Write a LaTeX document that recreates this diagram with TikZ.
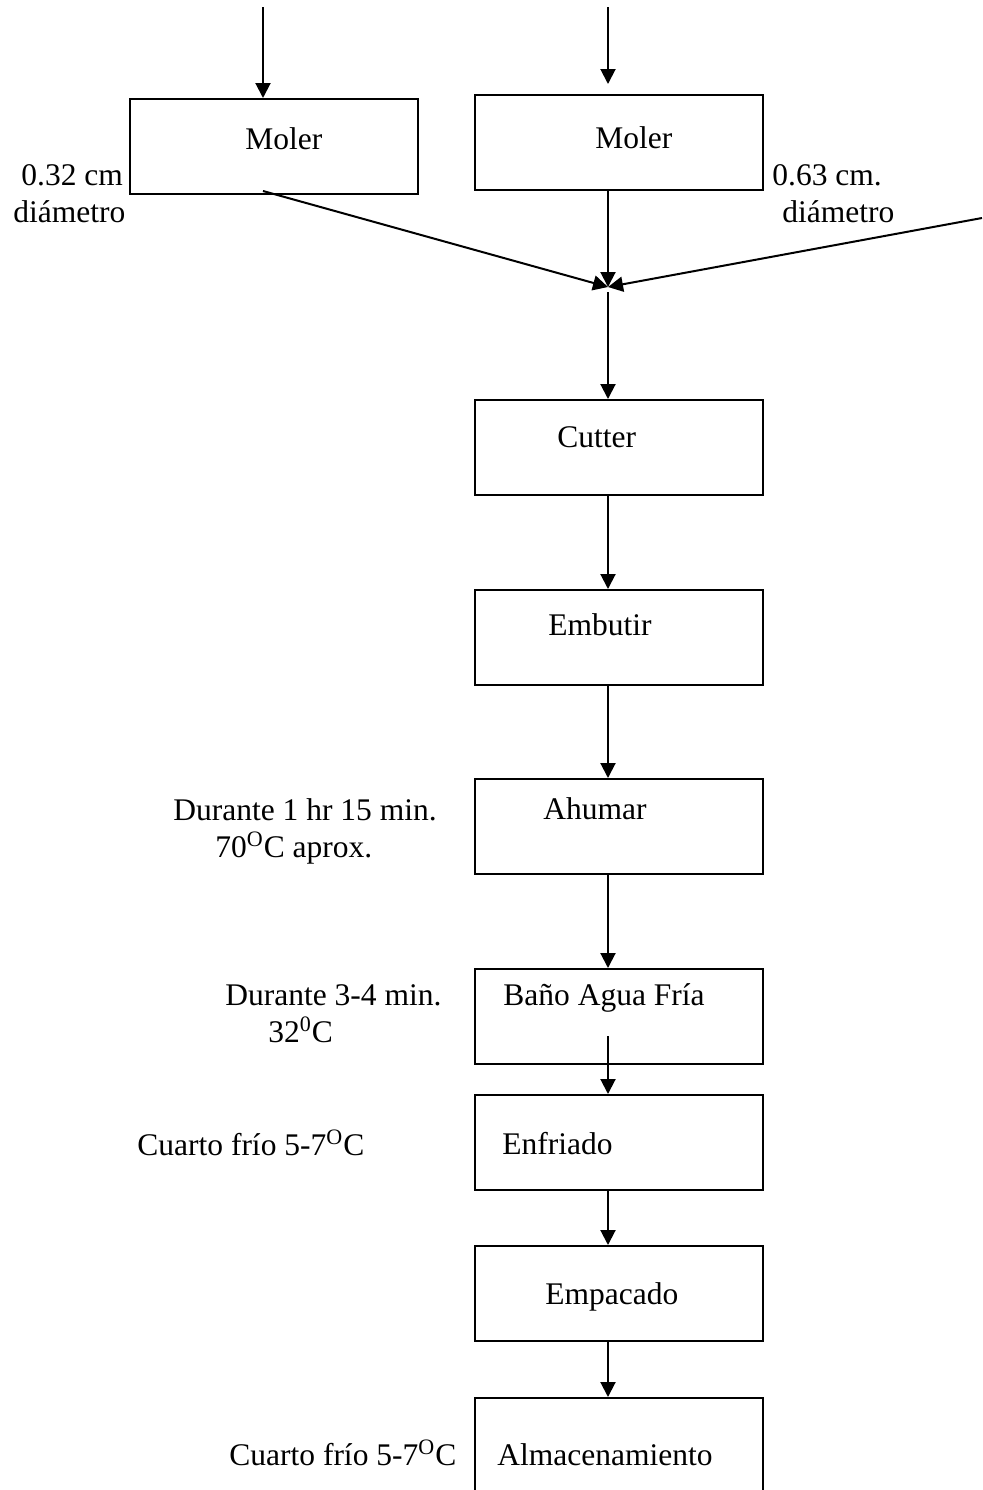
\documentclass[tikz,border=0pt]{standalone}
\usepackage{fontspec}
\setmainfont{Liberation Serif}
\usetikzlibrary{arrows.meta}
\begin{document}
\begin{tikzpicture}[x=0.5pt,y=-0.5pt,
  font=\fontsize{15.75}{18}\selectfont,
  stepbox/.style={draw, line width=1pt, rectangle, minimum width=144pt,
    minimum height=47.5pt, inner sep=0pt, anchor=north west},
  txt/.style={inner sep=0pt, anchor=base west},
  arr/.style={line width=1pt, -{Triangle[length=7.5pt,width=7.5pt]}}]
\useasboundingbox (0,0) rectangle (982,1490);
\clip (0,0) rectangle (982,1490);

% process boxes
\node[stepbox] (mL)  at (129,98)   {};
\node[stepbox] (mR)  at (474,94)   {};
\node[stepbox] (cut) at (474,399)  {};
\node[stepbox] (emb) at (474,589)  {};
\node[stepbox] (ahu) at (474,778)  {};
\node[stepbox] (ban) at (474,968)  {};
\node[stepbox] (enf) at (474,1094) {};
\node[stepbox] (emp) at (474,1245) {};
\node[stepbox, minimum height=70pt] (alm) at (474,1397) {};

% box captions
\node[txt] (tmL)  at (245,149)  {Moler};
\node[txt] (tmR)  at (595,148)  {Moler};
\node[txt] (tcut) at (557,447)  {Cutter};
\node[txt] (temb) at (548,635)  {Embutir};
\node[txt] (tahu) at (543,819)  {Ahumar};
\node[txt] (tban) at (503,1005) {Baño Agua Fría};
\node[txt] (tenf) at (502,1154) {Enfriado};
\node[txt] (temp) at (545,1304) {Empacado};
\node[txt] (talm) at (497,1465) {Almacenamiento};

% side notes
\node[txt] (n1a) at (21,185)   {0.32 cm};
\node[txt] (n1b) at (13,222)   {diámetro};
\node[txt] (n2a) at (772,185)  {0.63 cm.};
\node[txt] (n2b) at (782,222)  {diámetro};
\node[txt] (n3a) at (173,820)  {Durante 1 hr 15 min.};
\node[txt] (n3b) at (215,857)  {70\textsuperscript{O}C aprox.};
\node[txt] (n4a) at (225,1005) {Durante 3-4 min.};
\node[txt] (n4b) at (268,1042) {32\textsuperscript{0}C};
\node[txt] (n5)  at (137,1155) {Cuarto frío 5-7\textsuperscript{O}C};
\node[txt] (n6)  at (229,1465) {Cuarto frío 5-7\textsuperscript{O}C};

% connector end points
\coordinate (inL)  at (263,7);
\coordinate (inR)  at (608,7);
\coordinate (outL) at (263,191);
\coordinate (side) at (982,218);
\coordinate (join) at (608,287);
\coordinate (axis) at (608,0);
\coordinate (banIn) at (608,1036);

% connectors
\draw[arr] (inL) -- (inL |- mL.north);
\draw[arr] (inR) -- ([yshift=5pt]inR |- mR.north);
\draw[arr] (outL) -- (join);
\draw[arr] (mR.south -| axis) -- (join);
\draw[arr] (side) -- (join);
\draw[arr] ([yshift=-2.5pt]join) -- (cut.north -| axis);
\draw[arr] (cut.south -| axis) -- (emb.north -| axis);
\draw[arr] (emb.south -| axis) -- (ahu.north -| axis);
\draw[arr] (ahu.south -| axis) -- (ban.north -| axis);
\draw[arr] (banIn) -- (enf.north -| axis);
\draw[arr] (enf.south -| axis) -- (emp.north -| axis);
\draw[arr] (emp.south -| axis) -- (alm.north -| axis);
\end{tikzpicture}
\end{document}
